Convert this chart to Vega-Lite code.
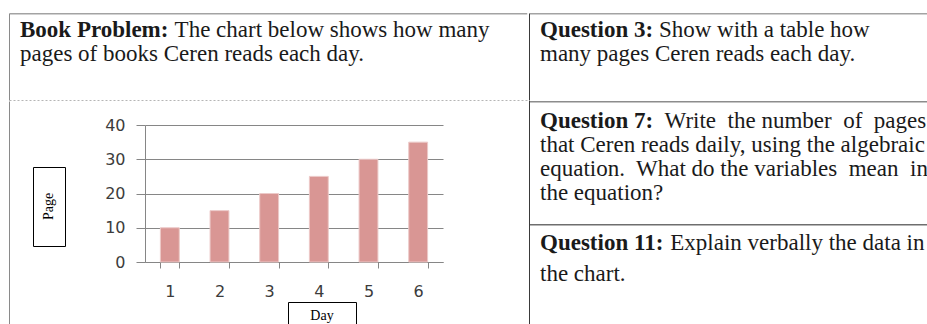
{
  "$schema": "https://vega.github.io/schema/vega-lite/v6.json",
  "background": "white",
  "padding": {"left": 9, "top": 13, "right": 0, "bottom": 0},
  "config": {
    "view": {"stroke": null},
    "concat": {"spacing": 0},
    "text": {"font": "Liberation Serif"}
  },
  "datasets": {
    "pages": [
      {"day": 1, "pages": 10},
      {"day": 2, "pages": 15},
      {"day": 3, "pages": 20},
      {"day": 4, "pages": 25},
      {"day": 5, "pages": 30},
      {"day": 6, "pages": 35}
    ],
    "texts": [
      {"cell": "A", "line": 0, "part": 0, "bold": true, "text": "Book Problem:"},
      {"cell": "A", "line": 0, "part": 1, "bold": false, "text": "The chart below shows how many"},
      {"cell": "A", "line": 1, "part": 0, "bold": false, "text": "pages of books Ceren reads each day."},
      {"cell": "R1", "line": 0, "part": 0, "bold": true, "text": "Question 3:"},
      {"cell": "R1", "line": 0, "part": 1, "bold": false, "text": "Show with a table how"},
      {"cell": "R1", "line": 1, "part": 0, "bold": false, "text": "many pages Ceren reads each day."},
      {"cell": "R2", "line": 0, "part": 0, "bold": true, "text": "Question 7:"},
      {"cell": "R2", "line": 0, "part": 1, "bold": false, "text": "Write\u00a0 the number\u00a0 of\u00a0 pages"},
      {"cell": "R2", "line": 1, "part": 0, "bold": false, "text": "that Ceren reads daily, using the algebraic"},
      {"cell": "R2", "line": 2, "part": 0, "bold": false, "text": "equation.\u00a0 What do the variables\u00a0 mean\u00a0 in"},
      {"cell": "R2", "line": 3, "part": 0, "bold": false, "text": "the equation?"},
      {"cell": "R3", "line": 0, "part": 0, "bold": true, "text": "Question 11:"},
      {"cell": "R3", "line": 0, "part": 1, "bold": false, "text": "Explain verbally the data in"},
      {"cell": "R3", "line": 1, "part": 0, "bold": false, "text": "the chart."}
    ]
  },
  "spacing": 0,
  "bounds": "full",
  "hconcat": [
    {
      "spacing": 0,
      "bounds": "full",
      "vconcat": [
        {
          "width": 519,
          "height": 88,
          "layer": [
            {"data": {"values": [{}]}, "mark": {"type": "rule", "color": "#a3a3a3", "strokeWidth": 1.5, "xOffset": 0.75, "x2Offset": -0.75}, "encoding": {"x": {"value": 0}, "x2": {"value": "width"}, "y": {"value": 0.75}}},
            {"data": {"values": [{}]}, "mark": {"type": "rule", "color": "#8a8a8a", "strokeWidth": 1, "yOffset": 0.5, "y2Offset": -0.5}, "encoding": {"x": {"value": 0.5}, "y": {"value": 0}, "y2": {"value": "height"}}},
            {"data": {"values": [{}]}, "mark": {"type": "rule", "color": "#b5b5b5", "strokeWidth": 1, "strokeDash": [2, 2], "xOffset": 0.5, "x2Offset": -0.5, "yOffset": -0.5}, "encoding": {"x": {"value": 0}, "x2": {"value": "width"}, "y": {"value": "height"}}},
            {
              "data": {"name": "texts"},
              "transform": [{"filter": "datum.cell == 'A' && datum.bold"}],
              "mark": {"type": "text", "align": "left", "baseline": "alphabetic", "fontWeight": "bold", "fontSize": 23, "font": "Liberation Serif", "color": "#1a1a1a"},
              "encoding": {
                "x": {"field": "part", "type": "quantitative", "scale": {"domain": [0, 1], "range": [11, 165.6], "nice": false, "zero": false}, "axis": null},
                "y": {"field": "line", "type": "quantitative", "scale": {"domain": [0, 1], "range": [24, 48], "nice": false, "zero": false}, "axis": null},
                "text": {"field": "text"}
              }
            },
            {
              "data": {"name": "texts"},
              "transform": [{"filter": "datum.cell == 'A' && !datum.bold"}],
              "mark": {"type": "text", "align": "left", "baseline": "alphabetic", "fontSize": 23, "font": "Liberation Serif", "color": "#1a1a1a"},
              "encoding": {
                "x": {"field": "part", "type": "quantitative", "scale": {"domain": [0, 1], "range": [11, 165.6], "nice": false, "zero": false}, "axis": null},
                "y": {"field": "line", "type": "quantitative", "scale": {"domain": [0, 1], "range": [24, 48], "nice": false, "zero": false}, "axis": null},
                "text": {"field": "text"}
              }
            }
          ]
        },
        {
          "spacing": 0,
          "bounds": "full",
          "hconcat": [
            {"width": 23, "height": 224, "data": {"values": [{}]}, "mark": {"type": "rule", "color": "#8a8a8a", "strokeWidth": 1, "yOffset": 0.5, "y2Offset": -0.5}, "encoding": {"x": {"value": 0.5}, "y": {"value": 0}, "y2": {"value": "height"}}},
            {
              "spacing": 0,
              "bounds": "flush",
              "vconcat": [
                {"width": 32, "height": 66, "data": {"values": [{}]}, "mark": {"type": "text", "text": ""}},
                {"width": 32, "height": 79, "view": {"stroke": "#000000", "strokeWidth": 1}, "data": {"values": [{"t": "Page"}]}, "mark": {"type": "text", "angle": 270, "font": "Liberation Serif", "fontSize": 14, "color": "#000000"}, "encoding": {"text": {"field": "t"}}}
              ]
            },
            {"width": 37.7, "height": 224, "data": {"values": [{}]}, "mark": {"type": "text", "text": ""}},
            {
              "spacing": -10.5,
              "bounds": "full",
              "vconcat": [
                {"width": 298, "height": 23.5, "data": {"values": [{}]}, "mark": {"type": "text", "text": ""}},
                {
                  "width": 298,
                  "height": 137,
                  "data": {"name": "pages"},
                  "mark": {"type": "bar", "color": "#d99694", "stroke": "#ecc9c8", "strokeWidth": 1},
                  "encoding": {
                    "x": {"field": "day", "type": "ordinal", "scale": {"paddingInner": 0.62, "paddingOuter": 0.31},
                      "axis": {"title": null, "labelAngle": 0, "tickBand": "extent", "tickSize": 6, "tickColor": "#868686", "domainColor": "#868686", "labelFont": "DejaVu Sans", "labelFontSize": 16, "labelColor": "#3c3c3c", "labelPadding": 15}},
                    "y": {"field": "pages", "type": "quantitative", "scale": {"domain": [0, 40]},
                      "axis": {"title": null, "values": [0, 10, 20, 30, 40], "tickSize": 9, "tickColor": "#868686", "domainColor": "#868686", "gridColor": "#868686", "labelFont": "DejaVu Sans", "labelFontSize": 16, "labelColor": "#3c3c3c", "labelPadding": 11}}
                  }
                },
                {
                  "spacing": 0,
                  "bounds": "flush",
                  "center": true,
                  "hconcat": [
                    {"width": 142.3, "height": 31, "data": {"values": [{}]}, "mark": {"type": "text", "text": ""}},
                    {"width": 68, "height": 25, "view": {"stroke": "#000000", "strokeWidth": 1}, "data": {"values": [{"t": "Day"}]}, "mark": {"type": "text", "font": "Liberation Serif", "fontSize": 14, "color": "#000000", "dy": 1}, "encoding": {"text": {"field": "t"}}}
                  ]
                }
              ]
            },
            {"width": 86, "height": 224, "data": {"values": [{}]}, "mark": {"type": "text", "text": ""}}
          ]
        }
      ]
    },
    {
      "spacing": 0,
      "bounds": "flush",
      "vconcat": [
        {
          "width": 399,
          "height": 88,
          "layer": [
            {"data": {"values": [{}]}, "mark": {"type": "rule", "color": "#a3a3a3", "strokeWidth": 1.5, "xOffset": 0.75, "x2Offset": -0.75}, "encoding": {"x": {"value": 0}, "x2": {"value": "width"}, "y": {"value": 0.75}}},
            {"data": {"values": [{}]}, "mark": {"type": "rule", "color": "#3a3a3a", "strokeWidth": 1, "yOffset": 0.5, "y2Offset": -0.5}, "encoding": {"x": {"value": 0.5}, "y": {"value": 0}, "y2": {"value": "height"}}},
            {
              "data": {"name": "texts"},
              "transform": [{"filter": "datum.cell == 'R1' && datum.bold"}],
              "mark": {"type": "text", "align": "left", "baseline": "alphabetic", "fontWeight": "bold", "fontSize": 23, "font": "Liberation Serif", "color": "#1a1a1a"},
              "encoding": {
                "x": {"field": "part", "type": "quantitative", "scale": {"domain": [0, 1], "range": [11, 129.9], "nice": false, "zero": false}, "axis": null},
                "y": {"field": "line", "type": "quantitative", "scale": {"domain": [0, 1], "range": [24, 48], "nice": false, "zero": false}, "axis": null},
                "text": {"field": "text"}
              }
            },
            {
              "data": {"name": "texts"},
              "transform": [{"filter": "datum.cell == 'R1' && !datum.bold"}],
              "mark": {"type": "text", "align": "left", "baseline": "alphabetic", "fontSize": 23, "font": "Liberation Serif", "color": "#1a1a1a"},
              "encoding": {
                "x": {"field": "part", "type": "quantitative", "scale": {"domain": [0, 1], "range": [11, 129.9], "nice": false, "zero": false}, "axis": null},
                "y": {"field": "line", "type": "quantitative", "scale": {"domain": [0, 1], "range": [24, 48], "nice": false, "zero": false}, "axis": null},
                "text": {"field": "text"}
              }
            }
          ]
        },
        {
          "width": 399,
          "height": 123,
          "layer": [
            {"data": {"values": [{}]}, "mark": {"type": "rule", "color": "#8c8c8c", "strokeWidth": 1.5, "xOffset": 0.75, "x2Offset": -0.75}, "encoding": {"x": {"value": 0}, "x2": {"value": "width"}, "y": {"value": 0.75}}},
            {"data": {"values": [{}]}, "mark": {"type": "rule", "color": "#3a3a3a", "strokeWidth": 1}, "encoding": {"x": {"value": 0.5}, "y": {"value": 0}, "y2": {"value": "height"}}},
            {
              "data": {"name": "texts"},
              "transform": [{"filter": "datum.cell == 'R2' && datum.bold"}],
              "mark": {"type": "text", "align": "left", "baseline": "alphabetic", "fontWeight": "bold", "fontSize": 23, "font": "Liberation Serif", "color": "#1a1a1a"},
              "encoding": {
                "x": {"field": "part", "type": "quantitative", "scale": {"domain": [0, 1], "range": [11, 135.6], "nice": false, "zero": false}, "axis": null},
                "y": {"field": "line", "type": "quantitative", "scale": {"domain": [0, 3], "range": [27, 99], "nice": false, "zero": false}, "axis": null},
                "text": {"field": "text"}
              }
            },
            {
              "data": {"name": "texts"},
              "transform": [{"filter": "datum.cell == 'R2' && !datum.bold"}],
              "mark": {"type": "text", "align": "left", "baseline": "alphabetic", "fontSize": 23, "font": "Liberation Serif", "color": "#1a1a1a"},
              "encoding": {
                "x": {"field": "part", "type": "quantitative", "scale": {"domain": [0, 1], "range": [11, 135.6], "nice": false, "zero": false}, "axis": null},
                "y": {"field": "line", "type": "quantitative", "scale": {"domain": [0, 3], "range": [27, 99], "nice": false, "zero": false}, "axis": null},
                "text": {"field": "text"}
              }
            }
          ]
        },
        {
          "width": 399,
          "height": 101,
          "layer": [
            {"data": {"values": [{}]}, "mark": {"type": "rule", "color": "#6e6e6e", "strokeWidth": 1.5, "xOffset": 0.75, "x2Offset": -0.75}, "encoding": {"x": {"value": 0}, "x2": {"value": "width"}, "y": {"value": 0.75}}},
            {"data": {"values": [{}]}, "mark": {"type": "rule", "color": "#3a3a3a", "strokeWidth": 1}, "encoding": {"x": {"value": 0.5}, "y": {"value": 0}, "y2": {"value": "height"}}},
            {
              "data": {"name": "texts"},
              "transform": [{"filter": "datum.cell == 'R3' && datum.bold"}],
              "mark": {"type": "text", "align": "left", "baseline": "alphabetic", "fontWeight": "bold", "fontSize": 23, "font": "Liberation Serif", "color": "#1a1a1a"},
              "encoding": {
                "x": {"field": "part", "type": "quantitative", "scale": {"domain": [0, 1], "range": [11, 141.3], "nice": false, "zero": false}, "axis": null},
                "y": {"field": "line", "type": "quantitative", "scale": {"domain": [0, 1], "range": [26, 57], "nice": false, "zero": false}, "axis": null},
                "text": {"field": "text"}
              }
            },
            {
              "data": {"name": "texts"},
              "transform": [{"filter": "datum.cell == 'R3' && !datum.bold"}],
              "mark": {"type": "text", "align": "left", "baseline": "alphabetic", "fontSize": 23, "font": "Liberation Serif", "color": "#1a1a1a"},
              "encoding": {
                "x": {"field": "part", "type": "quantitative", "scale": {"domain": [0, 1], "range": [11, 141.3], "nice": false, "zero": false}, "axis": null},
                "y": {"field": "line", "type": "quantitative", "scale": {"domain": [0, 1], "range": [26, 57], "nice": false, "zero": false}, "axis": null},
                "text": {"field": "text"}
              }
            }
          ]
        }
      ]
    }
  ]
}
